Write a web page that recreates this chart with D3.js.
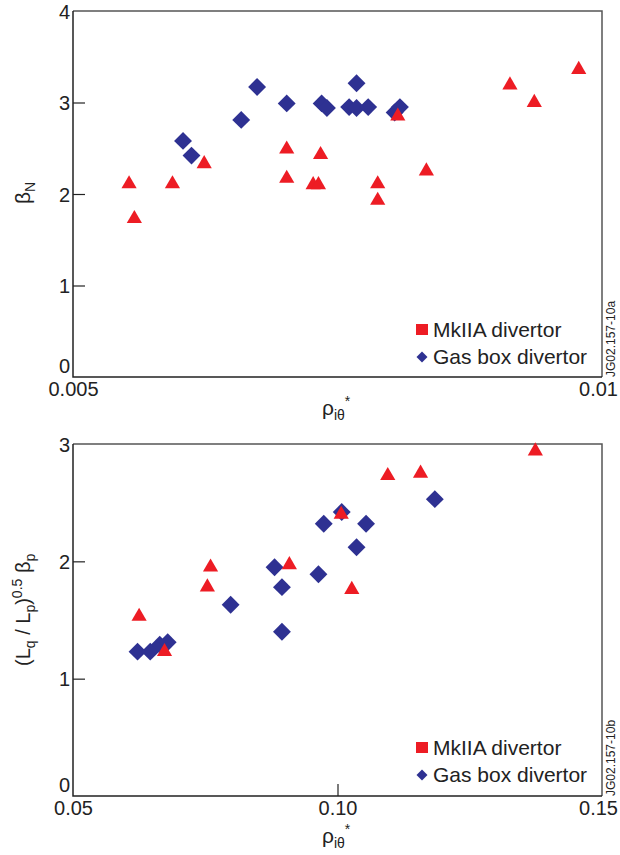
<!DOCTYPE html>
<html>
<head>
<meta charset="utf-8">
<script src="https://cdn.jsdelivr.net/npm/d3@7"></script>
<style>
  body { margin: 0; background: #fff; }
  svg { display: block; font-family: "Liberation Sans", Arial, sans-serif; }
</style>
</head>
<body>
<svg id="chart" width="620" height="855"></svg>
<script>
// top panel: beta_N vs rho_i_theta*
const topMk2X = [0.00553, 0.00558, 0.00594, 0.00624, 0.00702, 0.00702, 0.00727, 0.00732, 0.00734, 0.00788, 0.00788, 0.00807, 0.00834, 0.00913, 0.00936, 0.00978]
const topMk2Y = [2.11, 1.73, 2.11, 2.33, 2.49, 2.17, 2.10, 2.10, 2.43, 2.11, 1.93, 2.85, 2.25, 3.19, 3.00, 3.36]
const topGasX = [0.00604, 0.00612, 0.00659, 0.00674, 0.00702, 0.00735, 0.00740, 0.00761, 0.00768, 0.00768, 0.00779, 0.00804, 0.00809]
const topGasY = [2.58, 2.42, 2.81, 3.17, 2.99, 2.99, 2.94, 2.95, 3.21, 2.94, 2.95, 2.89, 2.95]

// bottom panel: (Lq/Lp)^0.5 beta_p vs rho_i_theta*
const botMk2X = [0.0625, 0.0673, 0.0760, 0.0754, 0.0909, 0.1007, 0.1027, 0.1095, 0.1157, 0.1374]
const botMk2Y = [1.53, 1.23, 1.95, 1.78, 1.97, 2.40, 1.76, 2.73, 2.75, 2.94]
const botGasX = [0.0622, 0.0646, 0.0664, 0.0679, 0.0798, 0.0881, 0.0895, 0.0895, 0.0964, 0.0974, 0.1008, 0.1036, 0.1054, 0.1184]
const botGasY = [1.23, 1.23, 1.29, 1.31, 1.63, 1.95, 1.78, 1.40, 1.89, 2.32, 2.42, 2.12, 2.32, 2.53]

const topXTicks = [0.005, 0.01]
const topYTicks = [0, 1, 2, 3, 4]
const botXTicks = [0.05, 0.10, 0.15]
const botYTicks = [0, 1, 2, 3]
const legendNames = ["MkIIA divertor", "Gas box divertor"]

const red = "#ed1c24", blue = "#2e3192"
const svg = d3.select("#chart")

const tri = d3.symbol().type(d3.symbolTriangle).size(100)
const dia = d3.symbol().type(d3.symbolSquare).size(160)

function panel(opt) {
  const x = d3.scaleLinear().domain(opt.xDomain).range([73, 602])
  const y = d3.scaleLinear().domain(opt.yDomain).range([opt.bottom, opt.top])
  const g = svg.append("g")

  // frame
  g.append("path")
    .attr("d", `M${x.range()[0]},${opt.top}H${x.range()[1]}V${opt.bottom}`)
    .attr("fill", "none").attr("stroke", "#555").attr("stroke-width", 1.5)
  g.append("path")
    .attr("d", `M${x.range()[0]},${opt.top}V${opt.bottom}H${x.range()[1]}`)
    .attr("fill", "none").attr("stroke", "#222").attr("stroke-width", 1.5)

  // y axis
  const ya = g.append("g")
    .attr("transform", "translate(73,0)")
    .call(d3.axisLeft(y).tickValues(opt.yTicks).tickSize(-12).tickPadding(3).tickFormat(d3.format("d")))
  ya.select(".domain").remove()
  ya.selectAll(".tick line").attr("stroke", "#222").attr("stroke-width", 1.2)
    .filter(d => d === opt.yDomain[0] || d === opt.yDomain[1]).remove()
  ya.selectAll(".tick text").attr("font-size", 20).attr("fill", "#222")
    .attr("font-family", "'Liberation Sans', Arial, sans-serif")
    .attr("dy", d => d === opt.yDomain[0] ? "-0.25em" : "0.35em")

  // x axis
  const xa = g.append("g")
    .attr("transform", `translate(0,${opt.bottom})`)
    .call(d3.axisBottom(x).tickValues(opt.xTicks).tickSize(-12).tickPadding(5).tickFormat(opt.xFormat))
  xa.select(".domain").remove()
  xa.selectAll(".tick line").attr("stroke", "#222").attr("stroke-width", 1.2)
    .filter(d => d === opt.xDomain[0] || d === opt.xDomain[1]).remove()
  xa.selectAll(".tick text").attr("font-size", 20).attr("fill", "#222")
    .attr("font-family", "'Liberation Sans', Arial, sans-serif")
    .attr("dx", d => d === opt.xDomain[1] ? "-0.2em" : 0)
    .attr("dy", "0.95em").attr("y", 0)

  // points
  g.selectAll(".gas").data(d3.zip(opt.gasX, opt.gasY)).join("path")
    .attr("d", dia).attr("fill", blue)
    .attr("transform", d => `translate(${x(d[0])},${y(d[1])}) rotate(45)`)
  g.selectAll(".mk2").data(d3.zip(opt.mkX, opt.mkY)).join("path")
    .attr("d", tri).attr("fill", red)
    .attr("transform", d => `translate(${x(d[0])},${y(d[1])})`)

  // legend
  const lg = g.append("g").attr("transform", `translate(416,${opt.legendY})`)
  lg.append("rect").attr("x", 0).attr("y", -6).attr("width", 12).attr("height", 11).attr("fill", red)
  lg.append("path").attr("d", d3.symbol().type(d3.symbolSquare).size(60))
    .attr("transform", "translate(6,27) rotate(45)").attr("fill", blue)
  lg.selectAll("text").data(legendNames).join("text")
    .attr("x", 17).attr("y", (d, i) => i * 27 + 7)
    .attr("font-size", 21).attr("fill", "#222").text(d => d)

  // figure id
  g.append("text")
    .attr("transform", `translate(615,${opt.bottom}) rotate(-90)`)
    .attr("font-size", 12).attr("fill", "#222").text(opt.figId)

  // x label
  const xl = g.append("text").attr("x", 322).attr("y", opt.xLabelY)
    .attr("font-size", 21).attr("fill", "#222")
  xl.append("tspan").text("ρ")
  xl.append("tspan").attr("font-size", 14).attr("dy", 5).text("iθ")
  xl.append("tspan").attr("font-size", 14).attr("dy", -14).text("*")

  return g
}

panel({
  xDomain: [0.005, 0.01], yDomain: [0, 4], top: 11, bottom: 377,
  xTicks: topXTicks, yTicks: topYTicks, xFormat: d => d === 0.01 ? "0.01" : "0.005",
  mkX: topMk2X, mkY: topMk2Y, gasX: topGasX, gasY: topGasY,
  legendY: 330, figId: "JG02.157-10a", xLabelY: 415
})

panel({
  xDomain: [0.05, 0.15], yDomain: [0, 3], top: 444, bottom: 796,
  xTicks: botXTicks, yTicks: botYTicks, xFormat: d3.format(".2f"),
  mkX: botMk2X, mkY: botMk2Y, gasX: botGasX, gasY: botGasY,
  legendY: 748, figId: "JG02.157-10b", xLabelY: 843
})

// y labels
const yl1 = svg.append("text").attr("transform", "translate(30,204) rotate(-90)")
  .attr("font-size", 21).attr("fill", "#222")
yl1.append("tspan").text("β")
yl1.append("tspan").attr("font-size", 14).attr("dy", 5).text("N")

const yl2 = svg.append("text").attr("transform", "translate(30,666) rotate(-90)")
  .attr("font-size", 20).attr("fill", "#222")
yl2.append("tspan").text("(L")
yl2.append("tspan").attr("font-size", 14).attr("dy", 5).text("q")
yl2.append("tspan").attr("dy", -5).text(" / L")
yl2.append("tspan").attr("font-size", 14).attr("dy", 5).text("p")
yl2.append("tspan").attr("dy", -5).text(")")
yl2.append("tspan").attr("font-size", 14).attr("dy", -8).text("0.5")
yl2.append("tspan").attr("dy", 8).text(" β")
yl2.append("tspan").attr("font-size", 14).attr("dy", 5).text("p")
</script>
</body>
</html>
